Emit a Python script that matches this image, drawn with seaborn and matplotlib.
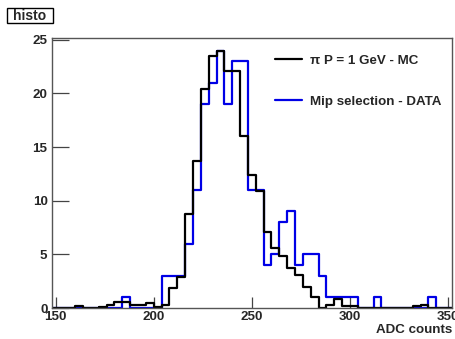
import numpy as np
import pandas as pd
import matplotlib
matplotlib.use('Agg')
import matplotlib.pyplot as plt
import seaborn as sns
from matplotlib.ticker import MultipleLocator
from matplotlib.patches import Rectangle

# lower edges of the 4-count wide ADC bins (148 .. 348)
bin_lo = list(range(148, 352, 4))

# pi, P = 1 GeV, MC (normalised)
mc_counts = [0, 0, 0, 0.15, 0, 0, 0.1, 0.3, 0.55, 0.55,
             0.3, 0.3, 0.5, 0.1, 0.25, 1.9, 2.85, 8.8, 13.7, 20.4,
             23.5, 24.0, 22.1, 22.1, 16.0, 12.4, 10.9, 7.1, 5.55, 4.83,
             3.74, 3.06, 1.96, 1.03, 0, 0.3, 0.8, 0.2, 0.2, 0,
             0, 0, 0, 0, 0, 0, 0.15, 0.3, 0, 0,
             0]

# Mip selection, DATA
data_counts = [0, 0, 0, 0, 0, 0, 0, 0, 0, 1,
               0, 0, 0, 0, 3, 3, 3, 6, 11, 19,
               21, 24, 19, 23, 23, 11, 11, 4, 5, 8,
               9, 4, 5, 5, 3, 1, 1, 1, 1, 0,
               0, 1, 0, 0, 0, 0, 0, 0, 1, 0,
               0]

mc_label = 'π P = 1 GeV - MC'
data_label = 'Mip selection - DATA'

edges = bin_lo + [bin_lo[-1] + 4]
df_mc = pd.DataFrame({'adc': [b + 2 for b in bin_lo], 'n': mc_counts})
df_data = pd.DataFrame({'adc': [b + 2 for b in bin_lo], 'n': data_counts})

sns.set_style('white')
plt.rcParams['font.family'] = ['Liberation Sans', 'DejaVu Sans']
plt.rcParams['font.weight'] = 'bold'
fs = 9.6

fig = plt.figure(figsize=(4.56, 3.39), dpi=100)
ax = fig.add_axes([0.1134, 0.0914, 0.8778, 0.7974])

sns.histplot(data=df_data, x='adc', weights='n', bins=edges, element='step',
             fill=False, color='#0000e6', linewidth=1.6, label=data_label, ax=ax)
sns.histplot(data=df_mc, x='adc', weights='n', bins=edges, element='step',
             fill=False, color='black', linewidth=1.6, label=mc_label, ax=ax)

ax.set_xlim(148, 352)
ax.set_ylim(0, 25.2)
ax.xaxis.set_major_locator(MultipleLocator(50))
ax.xaxis.set_minor_locator(MultipleLocator(10))
ax.yaxis.set_major_locator(MultipleLocator(5))
ax.yaxis.set_minor_locator(MultipleLocator(1))
ax.tick_params(axis='y', which='major', direction='in', length=12, width=0.9,
               color='#444444', labelsize=fs, pad=3)
ax.tick_params(axis='y', which='minor', direction='in', length=6, width=0.9, color='#444444')
ax.tick_params(axis='x', which='major', direction='in', length=8, width=0.9,
               color='#444444', labelsize=fs, pad=2)
ax.tick_params(axis='x', which='minor', direction='in', length=4, width=0.9, color='#444444')
ax.tick_params(left=True, bottom=True)
for s in ax.spines.values():
    s.set_color('#555555')
    s.set_linewidth(1.0)

ax.set_ylabel('')
ax.set_xlabel('ADC counts', fontsize=fs, fontweight='bold', loc='right', labelpad=1)

handles, labels = ax.get_legend_handles_labels()
order = [labels.index(mc_label), labels.index(data_label)]
ax.legend([handles[i] for i in order], [labels[i] for i in order],
          loc='upper left', bbox_to_anchor=(0.558, 0.939), frameon=False,
          fontsize=fs, handlelength=2.0, handletextpad=0.62,
          labelspacing=2.15, borderpad=0, borderaxespad=0)

fig.patches.append(Rectangle((6.7 / 456, 1 - 22.7 / 339), 46.6 / 456, 14.4 / 339,
                             transform=fig.transFigure, facecolor='white',
                             edgecolor='black', linewidth=1))
fig.text(30 / 456, 1 - 15.5 / 339, 'histo', ha='center', va='center',
         fontsize=10, fontweight='bold')

fig.savefig('out.png', dpi=100)
